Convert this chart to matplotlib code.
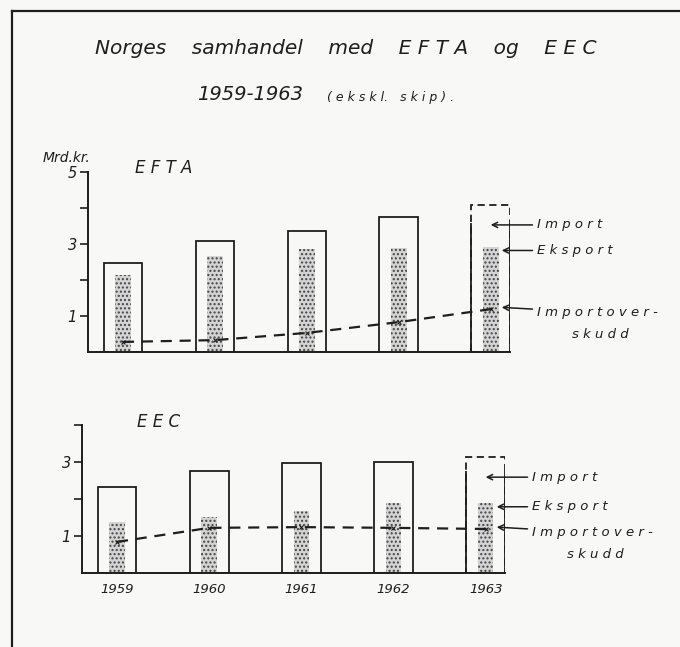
import numpy as np
import matplotlib.pyplot as plt

# values in Mrd. kr.
years = ['1959', '1960', '1961', '1962', '1963']
efta_import = [2.47, 3.08, 3.36, 3.75, 4.08]
efta_eksport = [2.14, 2.67, 2.86, 2.89, 2.92]
efta_overskudd = [0.28, 0.33, 0.53, 0.83, 1.19]
eec_import = [2.32, 2.76, 2.97, 3.00, 3.14]
eec_eksport = [1.38, 1.51, 1.68, 1.89, 1.89]
eec_overskudd = [0.84, 1.22, 1.24, 1.22, 1.19]

ink = '#1e1e1e'
bg = '#f8f8f6'
fnt = dict(style='italic', color=ink, family='DejaVu Sans')

fig = plt.figure(figsize=(6.8, 6.47), dpi=100, facecolor=bg)

# frame of the old print
fig.add_artist(plt.Line2D([12/680, 12/680], [0, 1 - 11/647], color=ink, lw=1.6))
fig.add_artist(plt.Line2D([12/680, 1], [1 - 11/647, 1 - 11/647], color=ink, lw=1.6))

ax1 = fig.add_axes([88/680, 1 - 352/647, 422/680, 180/647])
ax2 = fig.add_axes([82/680, 1 - 573/647, 423/680, 148/647])

x = np.arange(len(years))


def panel(ax, imp, eks, over, ytop, ticks, labels):
    ax.set_facecolor(bg)
    bars = ax.bar(x, imp, width=0.42, facecolor='none', edgecolor=ink, lw=1.3)
    # 1963 preliminary: dashed top
    last = bars[-1]
    last.set_linestyle((0, (4, 2.5)))
    ax.vlines([x[-1] - 0.21, x[-1] + 0.21], 0, imp[-1] * 0.88, color=ink, lw=1.3)
    ax.bar(x, eks, width=0.17, facecolor='#d4d4d4', edgecolor='#444444',
           hatch='....', lw=0)
    ax.plot(x, over, color=ink, lw=1.6, ls=(0, (5, 3.5)), marker='x', ms=3, mew=0.8)
    ax.set_xlim(-0.38, 4.21)
    ax.set_ylim(0, ytop)
    for s in ['top', 'right']:
        ax.spines[s].set_visible(False)
    ax.spines['left'].set_linewidth(1.4)
    ax.spines['bottom'].set_linewidth(1.4)
    ax.spines['left'].set_color(ink)
    ax.spines['bottom'].set_color(ink)
    ax.set_xticks([])
    ax.set_yticks(ticks)
    ax.set_yticklabels(labels, fontsize=10.5, style='italic', color=ink)
    ax.tick_params(axis='y', length=6, width=1.2, color=ink, pad=2)


panel(ax1, efta_import, efta_eksport, efta_overskudd, 5,
      [1, 2, 3, 4, 5], ['1', '', '3', '', '5'])
panel(ax2, eec_import, eec_eksport, eec_overskudd, 4,
      [1, 2, 3, 4], ['1', '', '3', ''])

for xi, yr in zip(x, years):
    ax2.text(xi, -0.45, yr, ha='center', va='center', fontsize=9.5, **fnt)

# titles and labels
fig.text(346/680, 1 - 49/647, 'Norges    samhandel    med    E F T A    og    E E C',
         ha='center', va='center', fontsize=14.5, **fnt)
fig.text(303/680, 1 - 95/647, '1959-1963', ha='right', va='center', fontsize=14, **fnt)
fig.text(327/680, 1 - 97/647, '( e k s k l.   s k i p ) .', ha='left', va='center',
         fontsize=9, **fnt)
fig.text(43/680, 1 - 158/647, 'Mrd.kr.', ha='left', va='center', fontsize=10, **fnt)
fig.text(135/680, 1 - 168/647, 'E F T A', ha='left', va='center', fontsize=12, **fnt)
fig.text(137/680, 1 - 422/647, 'E E C', ha='left', va='center', fontsize=12, **fnt)


def notes(ax, imp, eks, over):
    kw = dict(xycoords='data', textcoords='data', fontsize=9.5, va='center', ha='left', **fnt)
    arr = dict(arrowstyle='->', color=ink, lw=1.1, shrinkA=1, shrinkB=0)
    ax.annotate('I m p o r t', xy=(4.0, imp[-1] - 0.55), xytext=(4.5, imp[-1] - 0.55),
                arrowprops=arr, annotation_clip=False, **kw)
    ax.annotate('E k s p o r t', xy=(4.12, eks[-1] - 0.1), xytext=(4.5, eks[-1] - 0.1),
                arrowprops=arr, annotation_clip=False, **kw)
    ax.annotate('I m p o r t o v e r -', xy=(4.12, over[-1] + 0.05), xytext=(4.5, over[-1] - 0.1),
                arrowprops=arr, annotation_clip=False, **kw)
    ax.text(4.88, over[-1] - 0.7, 's k u d d', clip_on=False,
            fontsize=9.5, va='center', ha='left', **fnt)


notes(ax1, efta_import, efta_eksport, efta_overskudd)
notes(ax2, eec_import, eec_eksport, eec_overskudd)

fig.savefig('out.png', dpi=100, facecolor=bg)
